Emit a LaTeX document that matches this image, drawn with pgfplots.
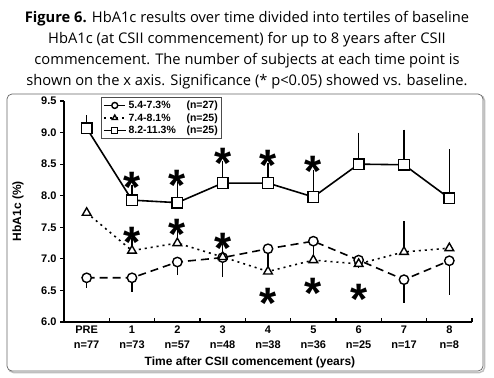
\documentclass[border=0pt]{standalone}
\usepackage{fontspec}
\setmainfont{Liberation Sans}
\newfontfamily\capfont{Open Sans}
\usepackage{pgfplots}
\pgfplotsset{compat=1.18}
\newcommand{\sig}{\raisebox{-0.58em}[0.15em][0.15em]{*}}
\begin{document}
\begin{tikzpicture}[x=1pt,y=1pt]
\useasboundingbox (0,0) rectangle (494,377);
% caption
\begin{scope}[every node/.style={anchor=base, inner sep=0pt, font=\capfont\fontsize{14.7}{16}\selectfont}]
\node at (247,354) {\textbf{Figure 6.} HbA1c results over time divided into tertiles of baseline};
\node at (247,333) {HbA1c (at CSII commencement) for up to 8 years after CSII};
\node at (247,312) {commencement. The number of subjects at each time point is};
\node at (247,291) {shown on the x axis. Significance (* p{\textless}0.05) showed vs. baseline.};
\end{scope}
% frame with shadow
\draw[black!25, line width=1.5pt, rounded corners=5pt] (8.5,4.5) rectangle (484.5,281.5);
\draw[black!60, line width=0.7pt, rounded corners=5pt, fill=white] (7,6) rectangle (483,283);
\begin{axis}[
  at={(64pt,55pt)}, anchor=south west, scale only axis,
  width=408pt, height=221pt,
  xmin=-0.5, xmax=8.5, ymin=6, ymax=9.5,
  axis x line*=bottom, axis y line*=left,
  axis line style={line width=1.1pt, -},
  xtick={-0.5,0.5,...,8.5}, xticklabels={},
  xtick align=inside, ytick align=outside,
  major tick length=4pt,
  tick style={line width=1.1pt, black},
  extra x ticks={0,1,2,3,4,5,6,7,8},
  extra x tick labels={{PRE\\n=77},{1\\n=73},{2\\n=57},{3\\n=48},{4\\n=38},{5\\n=36},{6\\n=25},{7\\n=17},{8\\n=8}},
  extra x tick style={major tick length=0pt},
  xticklabel style={align=center, font=\bfseries\fontsize{11}{15}\selectfont},
  ytick={6,6.5,7,7.5,8,8.5,9,9.5},
  yticklabels={6.0,6.5,7.0,7.5,8.0,8.5,9.0,9.5},
  yticklabel style={font=\bfseries\fontsize{11}{12}\selectfont},
  clip=false,
  legend style={at={(axis description cs:0.091,1.018)}, anchor=north west,
    draw=black!70, line width=0.7pt, inner sep=1.5pt, row sep=-0.5pt,
    font=\bfseries\fontsize{10.5}{12}\selectfont, cells={anchor=west}},
  legend image code/.code={\draw[mark repeat=2,mark phase=2, mark size=3pt] plot coordinates {(0pt,0pt) (11pt,0pt) (22pt,0pt)};},
]
% error bars
\addplot[draw=none, mark=none, forget plot,
  error bars/.cd, y dir=plus, y explicit, error mark=-,
  error bar style={draw=black, line width=1.6pt, solid},
  error mark options={black, line width=1.6pt, mark size=3pt}]
  coordinates {(0,9.07) +- (0,0.16) (1,7.93) +- (0,0.19) (2,7.89) +- (0,0.28)
    (3,8.20) +- (0,0.30) (4,8.20) +- (0,0.27) (5,7.98) +- (0,0.38)
    (6,8.50) +- (0,0.45) (7,8.49) +- (0,0.51) (8,7.96) +- (0,0.73)};
\addplot[draw=none, mark=none, forget plot,
  error bars/.cd, y dir=minus, y explicit, error mark=-,
  error bar style={draw=black, line width=1.6pt, solid},
  error mark options={black, line width=1.6pt, mark size=3pt}]
  coordinates {(0,6.70) +- (0,0.11) (1,6.70) +- (0,0.17) (2,6.95) +- (0,0.16)
    (3,7.02) +- (0,0.26) (4,7.16) +- (0,0.22) (5,7.28) +- (0,0.22)
    (6,6.98) +- (0,0.08) (7,6.67) +- (0,0.32) (8,6.97) +- (0,0.49)};
\addplot[draw=none, mark=none, forget plot,
  error bars/.cd, y dir=plus, y explicit, error mark=-,
  error bar style={draw=black, line width=1.6pt, solid},
  error mark options={black, line width=1.6pt, mark size=3pt}]
  coordinates {(0,7.73) +- (0,0.03) (1,7.13) +- (0,0.15) (2,7.25) +- (0,0.18)
    (3,7.03) +- (0,0.15) (4,6.80) +- (0,0.22) (5,6.98) +- (0,0.20)
    (6,6.92) +- (0,0.08) (7,7.11) +- (0,0.44) (8,7.17) +- (0,0.04)};
% series
\addplot[black, line width=1.6pt, dash pattern=on 8pt off 5pt, mark=*, mark size=4.7pt,
  mark options={solid, fill=white, draw=black, line width=1.4pt}]
  coordinates {(0,6.70) (1,6.70) (2,6.95) (3,7.02) (4,7.16) (5,7.28) (6,6.98) (7,6.67) (8,6.97)};
\addlegendentry{\makebox[58pt][l]{5.4-7.3\%}(n=27)}
\addplot[black, line width=1.6pt, dash pattern=on 2pt off 4pt, mark=triangle*, mark size=5pt,
  mark options={solid, fill=white, draw=black, line width=1.4pt}]
  coordinates {(0,7.73) (1,7.13) (2,7.25) (3,7.03) (4,6.80) (5,6.98) (6,6.92) (7,7.11) (8,7.17)};
\addlegendentry{\makebox[58pt][l]{7.4-8.1\%}(n=25)}
\addplot[black, line width=1.6pt, mark=square*, mark size=5.3pt,
  mark options={solid, fill=white, draw=black, line width=1.4pt}]
  coordinates {(0,9.07) (1,7.93) (2,7.89) (3,8.20) (4,8.20) (5,7.98) (6,8.50) (7,8.49) (8,7.96)};
\addlegendentry{\makebox[58pt][l]{8.2-11.3\%}(n=25)}
% significance asterisks
\begin{scope}[every node/.style={anchor=base, inner sep=0pt, font=\bfseries\fontsize{44}{44}\selectfont}]
\node at (axis cs:1,8.30) {\sig};
\node at (axis cs:1,7.43) {\sig};
\node at (axis cs:2,8.33) {\sig};
\node at (axis cs:2,7.55) {\sig};
\node at (axis cs:3,8.68) {\sig};
\node at (axis cs:3,7.33) {\sig};
\node at (axis cs:4,8.65) {\sig};
\node at (axis cs:4,6.46) {\sig};
\node at (axis cs:5,8.55) {\sig};
\node at (axis cs:5,6.62) {\sig};
\node at (axis cs:6,6.52) {\sig};
\end{scope}
\end{axis}
\node[rotate=90, font=\bfseries\fontsize{12}{14}\selectfont] at (18,166) {HbA1c (\%)};
\node[font=\bfseries\fontsize{12}{14}\selectfont] at (250,15) {Time after CSII comencement (years)};
\end{tikzpicture}
\end{document}
